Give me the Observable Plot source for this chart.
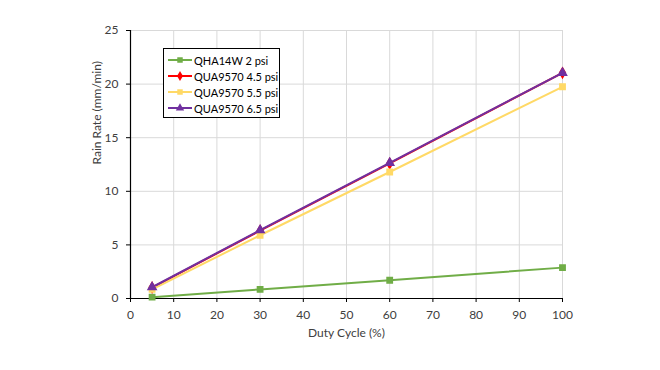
<!DOCTYPE html>
<html><head><meta charset="utf-8">
<script src="https://cdn.jsdelivr.net/npm/d3@7"></script>
<script src="https://cdn.jsdelivr.net/npm/@observablehq/plot@0.6"></script>
<style>
body{margin:0;background:#fff;font-family:Lato,"Open Sans",sans-serif;}
#wrap{position:relative;width:660px;height:370px;}
#legend{position:absolute;left:163px;top:48px;width:117px;height:70px;border:1px solid #000;background:#fff;font-size:11px;color:#000;box-sizing:border-box;padding:3px 0 0 3px;}
#legend .row{display:flex;align-items:center;height:16px;white-space:nowrap;}
#legend svg{margin-right:1px;flex:none;}
</style></head><body>
<div id="wrap"><div id="chart"></div><div id="legend"></div></div>
<script>
const duty = [5, 30, 60, 100];
const seriesNames = ["QHA14W 2 psi", "QUA9570 4.5 psi", "QUA9570 5.5 psi", "QUA9570 6.5 psi"];
const qha2 = [0.12, 0.85, 1.7, 2.88];
const qua45 = [1.02, 6.33, 12.6, 21.05];
const qua55 = [0.85, 5.9, 11.8, 19.75];
const qua65 = [1.05, 6.38, 12.65, 21.05];
const colors = ["#70AD47", "#FF0000", "#FFD966", "#7030A0"];
const symbols = ["square", "diamond", "square", "triangle"];
const xTicks = [0,10,20,30,40,50,60,70,80,90,100];
const yTicks = [0,5,10,15,20,25];

const values = [qha2, qua45, qua55, qua65];
const data = [];
seriesNames.forEach((s,i)=>duty.forEach((d,j)=>data.push({series:s, x:d, y:values[i][j]})));

const plot = Plot.plot({
  width: 660, height: 370,
  marginLeft: 130, marginRight: 98, marginTop: 30, marginBottom: 72,
  style: {fontFamily: "Lato, 'Open Sans', sans-serif", fontSize: "12px", color: "#404040"},
  x: {domain: [0,100], ticks: xTicks, label: null},
  y: {domain: [0,25], ticks: yTicks, label: null},
  color: {domain: seriesNames, range: colors},
  symbol: {domain: seriesNames, range: symbols},
  marks: [
    Plot.gridX(xTicks, {stroke: "#d9d9d9", strokeOpacity: 1}),
    Plot.gridY(yTicks, {stroke: "#d9d9d9", strokeOpacity: 1}),
    Plot.axisX({ticks: xTicks, tickSize: 4, tickPadding: 8, anchor: "bottom", fontSize: 12, stroke: "#000"}),
    Plot.axisY({ticks: yTicks, tickSize: 4, tickPadding: 8, anchor: "left", fontSize: 12, stroke: "#000"}),
    Plot.ruleX([0], {stroke: "#000", strokeWidth: 1.2}),
    Plot.ruleY([0], {stroke: "#000", strokeWidth: 1.2}),
    Plot.line(data, {x: "x", y: "y", z: "series", stroke: "series", strokeWidth: 2}),
    Plot.dot(data, {x: "x", y: "y", symbol: "series", fill: "series", stroke: "series", r: 3}),
    Plot.text(["Duty Cycle (%)"], {frameAnchor: "bottom", dy: 38, fontSize: 12, fill: "#404040"}),
    Plot.text(["Rain Rate (mm/min)"], {frameAnchor: "left", dx: -33, rotate: -90, fontSize: 12, fill: "#404040"})
  ]
});
document.getElementById("chart").append(plot);

const leg = document.getElementById("legend");
seriesNames.forEach((s,i)=>{
  const row = document.createElement("div"); row.className="row";
  const sym = d3.symbol(i===1 ? d3.symbolDiamond : symbols[i]==="triangle" ? d3.symbolTriangle : d3.symbolSquare, 30)();
  row.innerHTML = `<svg width="26" height="12"><line x1="1" x2="25" y1="6" y2="6" stroke="${colors[i]}" stroke-width="2"/><path d="${sym}" transform="translate(13,6)" fill="${colors[i]}"/></svg><span>${s}</span>`;
  leg.append(row);
});
</script>
</body></html>
